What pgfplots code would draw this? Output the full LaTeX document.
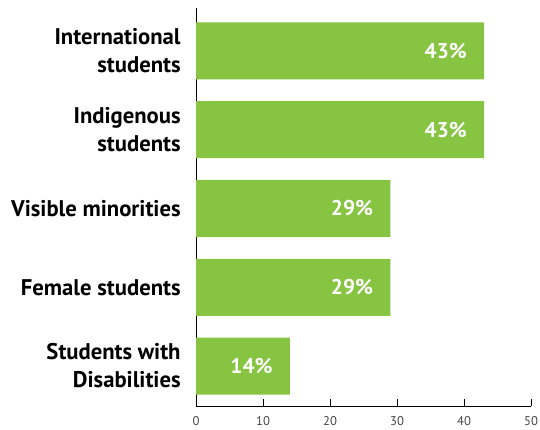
\documentclass[border=0pt]{standalone}
\usepackage{pgfplots}
\pgfplotsset{compat=1.18}
\usepackage{fontspec}
\setmainfont{PT Sans}
\definecolor{bargreen}{RGB}{134,196,66}
\definecolor{ticktext}{RGB}{70,70,70}
\begin{document}
\begin{tikzpicture}
\begin{axis}[
  name=ax,
  scale only axis,
  width=251.25pt, height=298.5pt,
  xmin=0, xmax=50,
  ymin=-0.508, ymax=4.546,
  axis lines*=left,
  axis line style={line width=0.75pt, black},
  xtick={0,10,20,30,40,50},
  tick align=inside,
  major tick length=5.5pt,
  x tick style={line width=0.75pt, black},
  ytick={0,1,2,3,4},
  yticklabels={{Students with\\Disabilities},{Female students},{Visible minorities},{Indigenous\\students},{International\\students}},
  y tick style={draw=none},
  yticklabel style={align=right, font=\bfseries\fontsize{17}{21}\selectfont, text=black, xshift=-2.5pt},
  xticklabel style={font=\fontsize{9.5}{11}\selectfont, text=ticktext, yshift=-4pt},
  /pgf/number format/assume math mode=true,
  xbar,
  bar width=42.75pt,
  nodes near coords={\pgfmathprintnumber{\pgfplotspointmeta}\%},
  every node near coord/.append style={anchor=east, inner sep=0pt, xshift=-12.75pt, text=white, font=\bfseries\fontsize{16}{19}\selectfont},
  clip=false,
]
\addplot[fill=bargreen, draw=none] coordinates {(14,0) (29,1) (29,2) (43,3) (43,4)};
\end{axis}
\pgfresetboundingbox
\useasboundingbox ([shift={(-147pt,-17.25pt)}]ax.south west) rectangle ([shift={(6.75pt,6pt)}]ax.north east);
\end{tikzpicture}
\end{document}
